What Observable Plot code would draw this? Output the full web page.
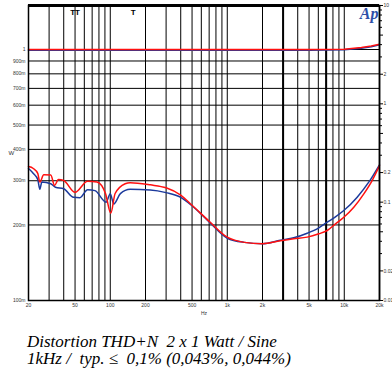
<!DOCTYPE html>
<html><head><meta charset="utf-8">
<script src="https://cdn.jsdelivr.net/npm/d3@7"></script>
<script src="https://cdn.jsdelivr.net/npm/@observablehq/plot@0.6"></script>
<style>
body{margin:0;background:#fff;width:392px;height:372px;overflow:hidden}
#chart svg{display:block}
.cap{font-family:"Liberation Serif","DejaVu Serif",serif;font-style:italic;font-size:17px;line-height:17px;padding-left:27px;padding-top:13px;white-space:pre;color:#000}
</style></head><body>
<div id="chart"></div>
<div class="cap" id="cap"></div>
<script>
// THD+N (%) - right axis
const freqRed = [20, 22, 24, 25, 27, 31, 33.4, 36, 40, 50, 64, 77, 91, 101, 110, 134, 148, 220, 300, 400, 500, 700, 1000, 1400, 2000, 2840, 3700, 4820, 6060, 7150, 8410, 9910, 12060, 14690, 17300, 20000];
const thdRed  = [0.230, 0.220, 0.196, 0.160, 0.190, 0.189, 0.148, 0.170, 0.166, 0.126, 0.163, 0.160, 0.1225, 0.077, 0.1225, 0.154, 0.158, 0.150, 0.140, 0.118, 0.093, 0.064, 0.044, 0.039, 0.0378, 0.0405, 0.0424, 0.0441, 0.0477, 0.0515, 0.0602, 0.0703, 0.0889, 0.1216, 0.166, 0.235];
const freqBlue = [20, 22, 24, 25, 26, 31, 34, 40, 48.5, 55, 64, 74, 92, 100, 107, 122, 148, 220, 300, 400, 500, 700, 1000, 1400, 2000, 2840, 3700, 4820, 6060, 7150, 8410, 9910, 12890, 16190, 20000];
const thdBlue  = [0.220, 0.196, 0.170, 0.135, 0.160, 0.154, 0.142, 0.137, 0.112, 0.111, 0.134, 0.131, 0.100, 0.122, 0.096, 0.122, 0.135, 0.133, 0.125, 0.112, 0.092, 0.063, 0.043, 0.039, 0.0378, 0.041, 0.0434, 0.0483, 0.0548, 0.0625, 0.071, 0.0822, 0.1123, 0.1596, 0.24];
// Output power (W) - left axis
const freqPow = [20, 1000, 5000, 10000, 14000, 17000, 20000];
const powRed  = [1.0, 1.0, 1.0, 1.003, 1.018, 1.032, 1.05];
const powBlue = [0.993, 0.993, 0.994, 0.997, 1.012, 1.026, 1.045];

// axes
const gridHz = [20,30,40,50,60,70,80,90,100,200,300,400,500,600,700,800,900,1000,2000,3000,4000,5000,6000,7000,8000,9000,10000];
const thickGridHz = [3000, 7000];
const xTickHz = [20, 50, 100, 200, 500, 1000, 2000, 5000, 10000, 20000];
const xTickLabels = ["20","50","100","200","500","1k","2k","5k","10k","20k"];
const wTicks = [1, 0.9, 0.8, 0.7, 0.6, 0.5, 0.4, 0.3, 0.2, 0.1];
const wLabels = ["1","900m","800m","700m","600m","500m","400m","300m","200m","100m"];
const pctTicks = [10, 5, 2, 1, 0.5, 0.2, 0.1, 0.05, 0.02, 0.01];
const pctLabels = ["10","5","2","1","0.5","0.2","0.1","0.05","0.02","0.01"];
const pctMinor = [9, 8, 7, 6, 4, 3, 0.9, 0.8, 0.7, 0.6, 0.4, 0.3, 0.09, 0.08, 0.07, 0.06, 0.04, 0.03];
const markerHz = [50, 157];
const markerText = ["TT", "T"];
const captionLines = ["Distortion THD+N  2 x 1 Watt / Sine", "1kHz /  typ. \u2264  0,1% (0,043%, 0,044%)"];

// left (W) axis mapped onto the right (%) log scale
const K = 2.5525;
const toPct = w => Math.pow(10, -2 + K * (Math.log10(w) + 1));

const red = "#ff1010", blue = "#1c3a9c";
const lab = "#333";

const chart = Plot.plot({
  width: 392, height: 320,
  marginLeft: 28, marginRight: 13, marginTop: 5, marginBottom: 20,
  x: {type: "log", domain: [20, 20000], axis: null},
  y: {type: "log", domain: [0.01, 10]},
  style: {fontFamily: "'Liberation Sans', Arial, sans-serif", background: "#fff"},
  marks: [
    Plot.ruleX(gridHz, {x: d => d, stroke: "#000", strokeWidth: 1}),
    Plot.ruleX(thickGridHz, {x: d => d, stroke: "#000", strokeWidth: 2}),
    Plot.ruleY(wTicks, {y: d => toPct(d), stroke: "#000", strokeWidth: 1}),
    Plot.line(freqPow, {x: d => d, y: (d, i) => toPct(powBlue[i]), stroke: blue, strokeWidth: 1.5}),
    Plot.line(freqPow, {x: d => d, y: (d, i) => toPct(powRed[i]), stroke: red, strokeWidth: 1.5}),
    Plot.line(freqBlue, {x: d => d, y: (d, i) => thdBlue[i], stroke: blue, strokeWidth: 1.5, curve: "monotone-x"}),
    Plot.line(freqRed, {x: d => d, y: (d, i) => thdRed[i], stroke: red, strokeWidth: 1.5, curve: "monotone-x"}),
    Plot.frame({stroke: "#000", strokeWidth: 1.5}),
    Plot.ruleY([10], {stroke: "#000", strokeWidth: 3}),
    Plot.ruleX([20000], {stroke: "#000", strokeWidth: 1.5}),
    Plot.text(xTickHz, {x: d => d, text: (d, i) => xTickLabels[i], frameAnchor: "bottom", dy: 6, fontSize: 5, fill: lab}),
    Plot.text(wTicks, {y: d => toPct(d), text: (d, i) => wLabels[i], frameAnchor: "left", dx: -3, textAnchor: "end", fontSize: 5, fill: lab}),
    Plot.axisY(pctTicks, {anchor: "right", tickSize: 3, tickPadding: 1, fontSize: 5, fill: lab,
      tickFormat: d => pctLabels[pctTicks.indexOf(d)]}),
    Plot.axisY(pctMinor, {anchor: "right", tickSize: 2, tickFormat: () => ""}),
    Plot.text(["W"], {frameAnchor: "left", dx: -20, fontSize: 6, fill: lab}),
    Plot.text(["Hz"], {frameAnchor: "bottom", dy: 14, fontSize: 5, fill: lab}),
    Plot.text(markerHz, {x: d => d, text: (d, i) => markerText[i], frameAnchor: "top", dy: 4, fontSize: 8, fontWeight: "bold", fill: "#000"}),
    Plot.text(["Ap"], {frameAnchor: "top-right", dx: -1, dy: 2, lineAnchor: "top", textAnchor: "end", fontSize: 16, fontStyle: "italic", fontWeight: "bold", fontFamily: "'Liberation Serif', serif", fill: "#2d4fa8"})
  ]
});
document.getElementById("chart").appendChild(chart);
document.getElementById("cap").textContent = captionLines.join("\n");
</script>
</body></html>
